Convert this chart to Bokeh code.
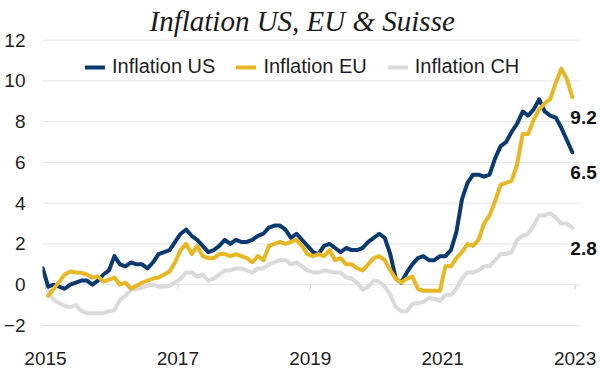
import math
import pandas as pd
from bokeh.plotting import figure
from bokeh.models import (Range1d, FixedTicker, Legend, LegendItem, LabelSet,
                          ColumnDataSource)
from bokeh.core.properties import value
from bokeh.embed import file_html
from bokeh.resources import INLINE

# ---------------- data (monthly YoY inflation, %) ----------------
start_month = "2015-01"
n_months = 96  # Jan 2015 .. Dec 2022

# US: value of Dec 2014 first, then Jan 2015 .. Dec 2022
us_dec_2014 = 0.8
inflation_us = [
    -0.1, 0.0, -0.1, -0.2, 0.0, 0.1, 0.2, 0.2, 0.0, 0.2, 0.5, 0.7,
    1.4, 1.0, 0.9, 1.1, 1.0, 1.0, 0.8, 1.1, 1.5, 1.6, 1.7, 2.1,
    2.5, 2.7, 2.4, 2.2, 1.9, 1.6, 1.7, 1.9, 2.2, 2.0, 2.2, 2.1,
    2.1, 2.2, 2.4, 2.5, 2.8, 2.9, 2.9, 2.7, 2.3, 2.5, 2.2, 1.9,
    1.6, 1.5, 1.9, 2.0, 1.8, 1.6, 1.8, 1.7, 1.7, 1.8, 2.1, 2.3,
    2.5, 2.3, 1.5, 0.3, 0.1, 0.6, 1.0, 1.3, 1.4, 1.2, 1.2, 1.4,
    1.4, 1.7, 2.6, 4.2, 5.0, 5.4, 5.4, 5.3, 5.4, 6.2, 6.8, 7.0,
    7.5, 7.9, 8.5, 8.3, 8.6, 9.1, 8.5, 8.3, 8.2, 7.7, 7.1, 6.5,
]
inflation_eu = [
    -0.55, -0.2, 0.15, 0.5, 0.65, 0.6, 0.58, 0.5, 0.35, 0.4, 0.15, 0.25,
    0.35, 0.0, 0.1, -0.2, -0.05, 0.1, 0.2, 0.3, 0.35, 0.5, 0.65, 1.1,
    1.7, 2.0, 1.5, 1.9, 1.4, 1.3, 1.3, 1.5, 1.5, 1.4, 1.5, 1.4,
    1.3, 1.1, 1.4, 1.2, 1.9, 2.0, 2.1, 2.0, 2.1, 2.2, 1.9, 1.5,
    1.4, 1.5, 1.4, 1.7, 1.2, 1.3, 1.0, 1.0, 0.8, 0.7, 1.0, 1.3,
    1.4, 1.2, 0.7, 0.3, 0.1, 0.3, 0.4, -0.2, -0.3, -0.3, -0.3, -0.3,
    0.9, 0.9, 1.3, 1.6, 2.0, 1.9, 2.2, 3.0, 3.4, 4.1, 4.9, 5.0,
    5.1, 5.9, 7.4, 7.4, 8.1, 8.6, 8.9, 9.1, 9.9, 10.6, 10.1, 9.2,
]
inflation_ch = [
    -0.3, -0.75, -0.9, -1.05, -1.1, -1.0, -1.3, -1.4, -1.4, -1.4, -1.4, -1.3,
    -1.25, -0.75, -0.55, -0.25, -0.2, -0.15, -0.05, 0.0, -0.1, -0.1, -0.05, 0.1,
    0.3, 0.6, 0.6, 0.4, 0.5, 0.2, 0.3, 0.5, 0.7, 0.7, 0.8, 0.8,
    0.7, 0.6, 0.8, 0.8, 1.0, 1.1, 1.2, 1.2, 1.0, 1.1, 0.9, 0.7,
    0.6, 0.6, 0.7, 0.65, 0.6, 0.6, 0.35, 0.3, 0.1, -0.25, -0.1, 0.2,
    0.15, -0.1, -0.5, -1.1, -1.3, -1.3, -0.95, -0.9, -0.85, -0.65, -0.7, -0.8,
    -0.5, -0.5, -0.2, 0.3, 0.6, 0.6, 0.7, 0.9, 0.9, 1.2, 1.5, 1.5,
    1.6, 2.2, 2.4, 2.5, 2.9, 3.4, 3.4, 3.5, 3.3, 3.0, 3.0, 2.8,
]

series_names = ["Inflation US", "Inflation EU", "Inflation CH"]
series_colors = ["#0b3a70", "#e8b824", "#dadada"]

x_tick_years = [2015, 2017, 2019, 2021, 2023]
x_tick_labels = ["2015", "2017", "2019", "2021", "2023"]
y_ticks = [-2, 0, 2, 4, 6, 8, 10, 12]

title_text = "Inflation US, EU & Suisse"

# ---------------- x positions: middle of each month, in years ----------------
months = pd.date_range(start=start_month, periods=n_months, freq="MS")
x_months = [d.year + (d.month - 0.5) / 12.0 for d in months]
prev = months[0] - pd.DateOffset(months=1)
x_us = [prev.year + (prev.month - 0.5) / 12.0] + x_months
y_us = [us_dec_2014] + inflation_us

# ---------------- figure ----------------
FONT = "Liberation Sans"
X_LO, X_GRID_HI, X_HI = 2014.955, 2023.082, 2023.399
p = figure(frame_width=559, frame_height=290,
           min_border_left=33, min_border_right=0,
           min_border_top=38, min_border_bottom=38,
           x_range=Range1d(X_LO, X_HI),
           y_range=Range1d(-2.15, 12.08),
           output_backend="svg", toolbar_location=None,
           title=title_text)
p.outline_line_color = None
p.background_fill_color = "white"
p.border_fill_color = "white"

p.title.align = "left"
p.title.offset = 107
p.title.text_font = "Liberation Serif"
p.title.text_font_style = "italic"
p.title.text_font_size = "29px"
p.title.text_color = "#1a1a1a"
p.title.standoff = 4

# axes
xa = p.xaxis[0]
xa.ticker = FixedTicker(ticks=x_tick_years)
xa.major_label_overrides = {y: l for y, l in zip(x_tick_years, x_tick_labels)}
xa.axis_line_color = None
xa.major_tick_line_color = None
xa.minor_tick_line_color = None
xa.major_label_standoff = 17
xa.major_label_text_font = FONT
xa.major_label_text_font_size = "19px"
xa.major_label_text_color = "#1e1e1e"

ya = p.yaxis[0]
ya.ticker = FixedTicker(ticks=y_ticks)
ya.axis_line_color = None
ya.major_tick_line_color = None
ya.minor_tick_line_color = None
ya.major_label_standoff = 11
ya.major_label_text_font = FONT
ya.major_label_text_font_size = "19px"
ya.major_label_text_color = "#1e1e1e"

p.xgrid.grid_line_color = None
p.ygrid.grid_line_color = None

# horizontal grid lines (stop before the end-value labels)
p.segment(x0=[X_LO] * len(y_ticks), y0=y_ticks,
          x1=[X_GRID_HI] * len(y_ticks), y1=y_ticks,
          line_color="#e4e4e4", line_width=1)

# small ticks on the zero line
p.ray(x=x_tick_years, y=[0] * len(x_tick_years), length=5, length_units="screen",
      angle=-math.pi / 2, line_color="#d0d0d0", line_width=1)

# lines
lw = 4
r_ch = p.line(x_months, inflation_ch, line_color=series_colors[2], line_width=lw,
              line_join="round", line_cap="round")
r_us = p.line(x_us, y_us, line_color=series_colors[0], line_width=lw,
              line_join="round", line_cap="round")
r_eu = p.line(x_months, inflation_eu, line_color=series_colors[1], line_width=lw,
              line_join="round", line_cap="round")

legend = Legend(items=[LegendItem(label=series_names[0], renderers=[r_us]),
                       LegendItem(label=series_names[1], renderers=[r_eu]),
                       LegendItem(label=series_names[2], renderers=[r_ch])],
                orientation="horizontal", location=(43, 250),
                padding=0, margin=0, spacing=21, glyph_width=20, glyph_height=20,
                label_standoff=7, label_text_font=FONT,
                label_text_font_size="20px", label_text_color="#1e1e1e",
                border_line_alpha=0, background_fill_alpha=0)
p.add_layout(legend)

# end-value labels
end_src = ColumnDataSource(data=dict(
    x=[x_us[-1], x_months[-1], x_months[-1]],
    y=[y_us[-1], inflation_eu[-1], inflation_ch[-1]],
    t=[f"{y_us[-1]:.1f}", f"{inflation_eu[-1]:.1f}", f"{inflation_ch[-1]:.1f}"],
))
labels = LabelSet(x="x", y="y", text="t", source=end_src, x_offset=-2, y_offset=-14,
                  text_baseline="top", text_align="left", text_font=value(FONT),
                  text_font_style="bold", text_font_size="19px", text_color="#111111")
p.add_layout(labels)

open("out.html", "w").write(file_html(p, INLINE))
